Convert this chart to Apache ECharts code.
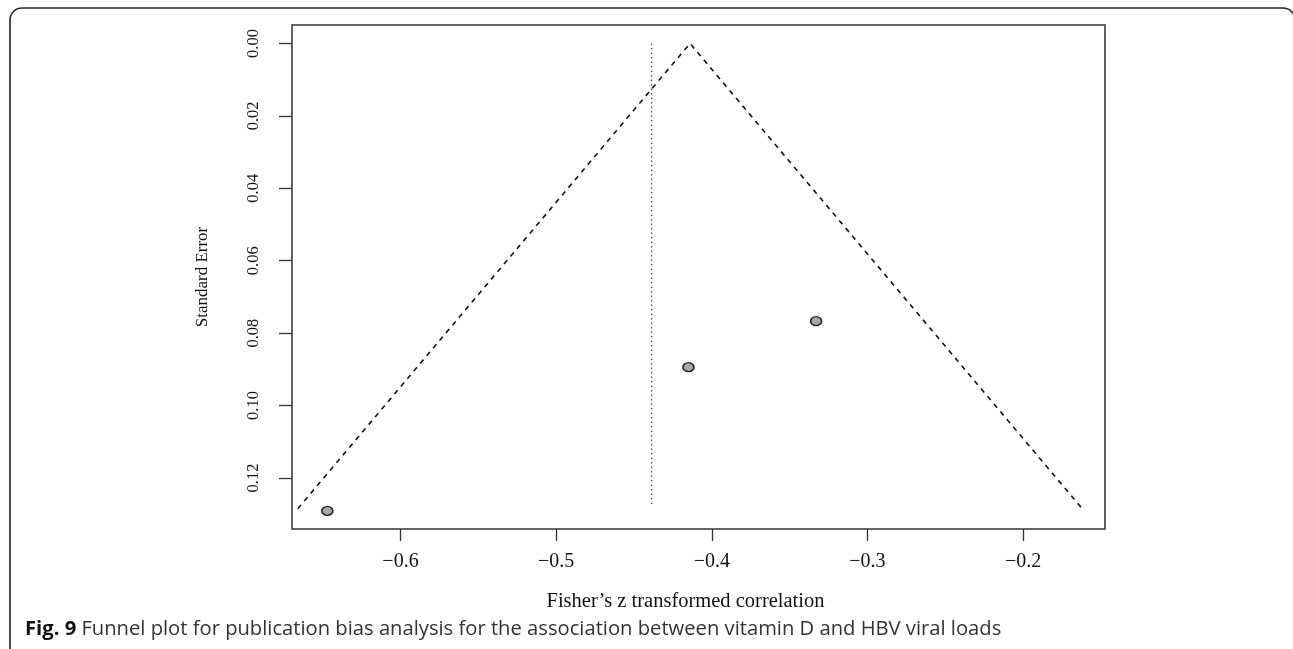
<!DOCTYPE html>
<html>
<head>
<meta charset="utf-8">
<script src="https://cdn.jsdelivr.net/npm/echarts@6/dist/echarts.min.js"></script>
<style>
html,body{margin:0;padding:0;background:#fff;}
#chart{width:1293px;height:649px;}
</style>
</head>
<body>
<div id="chart"></div>
<script>
// ---- data ----
const xTicks = [-0.6, -0.5, -0.4, -0.3, -0.2];
const yTicks = [0.00, 0.02, 0.04, 0.06, 0.08, 0.10, 0.12];
const xRange = [-0.6697, -0.1474];
const yRange = [-0.0051, 0.1341];
const studyZ = [-0.647, -0.415, -0.333];
const studySE = [0.1291, 0.0894, 0.0767];
const funnelX = [-0.666, -0.414, -0.162];
const funnelSE = [0.1285, 0.0, 0.1285];
const refLineX = [-0.4387, -0.4387];
const refLineSE = [0.0, 0.128];
const xTitle = 'Fisher\u2019s z transformed correlation';
const yTitle = 'Standard Error';
const captionBold = 'Fig. 9';
const captionText = ' Funnel plot for publication bias analysis for the association between vitamin D and HBV viral loads';

const chart = echarts.init(document.getElementById('chart'));
const serif = '"Liberation Serif", "Times New Roman", serif';
const pts = studyZ.map((z, i) => [z, studySE[i]]);
const funnel = funnelX.map((x, i) => [x, funnelSE[i]]);
const ref = refLineX.map((x, i) => [x, refLineSE[i]]);

chart.setOption({
  animation: false,
  backgroundColor: '#fff',
  grid: {
    left: 292, top: 25, right: 188, bottom: 120,
    show: true, borderColor: '#333', borderWidth: 1.5, backgroundColor: 'transparent'
  },
  xAxis: {
    type: 'value', min: xRange[0], max: xRange[1],
    name: xTitle, nameLocation: 'middle', nameGap: 62,
    nameTextStyle: { fontFamily: serif, fontSize: 20.5, color: '#111', padding: [0, 26, 0, 0] },
    axisLine: { show: false, onZero: false },
    splitLine: { show: false },
    axisTick: { show: true, length: 12, inside: false, customValues: xTicks, lineStyle: { color: '#333', width: 1.3 } },
    axisLabel: {
      customValues: xTicks, margin: 23,
      fontFamily: serif, fontSize: 20, color: '#111',
      formatter: v => (v < 0 ? '\u2212' : '') + Math.abs(v).toFixed(1)
    }
  },
  yAxis: {
    type: 'value', inverse: true, min: yRange[0], max: yRange[1],
    name: yTitle, nameLocation: 'middle', nameGap: 81, nameRotate: 90,
    nameTextStyle: { fontFamily: serif, fontSize: 17, color: '#111' },
    axisLine: { show: false, onZero: false },
    splitLine: { show: false },
    axisTick: { show: true, length: 13, inside: false, customValues: yTicks, lineStyle: { color: '#333', width: 1.3 } },
    axisLabel: {
      customValues: yTicks, margin: 30, rotate: 90,
      fontFamily: serif, fontSize: 16.5, color: '#111',
      formatter: v => v.toFixed(2)
    }
  },
  series: [
    {
      type: 'line', data: funnel, symbol: 'none', silent: true,
      lineStyle: { color: '#111', width: 1.6, type: [5, 5] }
    },
    {
      type: 'line', data: ref, symbol: 'none', silent: true,
      lineStyle: { color: '#555', width: 1.4, type: [1.5, 3] }
    },
    {
      type: 'scatter', data: pts, symbol: 'circle', symbolSize: [11, 9],
      itemStyle: { color: '#a8a8a8', borderColor: '#222', borderWidth: 1.5, opacity: 1 }
    }
  ],
  graphic: [
    {
      type: 'rect', silent: true,
      shape: { x: 10, y: 8, width: 1285, height: 700, r: 12 },
      style: { fill: 'none', stroke: '#222', lineWidth: 1.6 }
    },
    {
      type: 'text', left: 25, top: 619,
      style: {
        text: '{b|' + captionBold + '}{n|' + captionText + '}',
        rich: {
          b: { fontFamily: '"Open Sans", "Noto Sans", sans-serif', fontWeight: 'bold', fontSize: 20.2, fill: '#111' },
          n: { fontFamily: '"Open Sans", "Noto Sans", sans-serif', fontSize: 20.2, fill: '#333' }
        }
      }
    }
  ]
});
</script>
</body>
</html>
